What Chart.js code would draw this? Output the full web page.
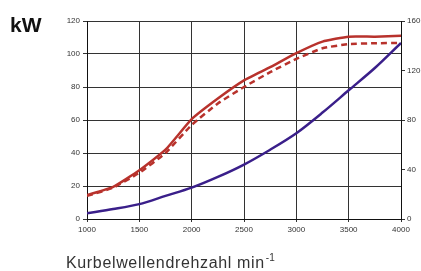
<!DOCTYPE html>
<html>
<head>
<meta charset="utf-8">
<script src="https://cdn.jsdelivr.net/npm/chart.js@4"></script>
<style>
html, body { margin: 0; padding: 0; background: #fff; }
#wrap { width: 421px; height: 271px; position: relative; }
</style>
</head>
<body>
<div id="wrap"><canvas id="chart"></canvas></div>
<script>
// rpm values (x)
const rpm = [1000, 1250, 1500, 1750, 2000, 2250, 2500, 2750, 3000, 3250, 3500, 3750, 4000]

// curves, read in left axis units (kW)
const powerSolid = [14.5, 19.5, 29.5, 42, 60.5, 73, 84, 92, 100.5, 107.5, 110.5, 110.5, 111]
const powerDashed = [14, 19, 28, 40, 57, 70, 80, 89, 97, 103.5, 106, 106.5, 106.7]
const blueCurve = [3.5, 6, 9, 14, 19, 25.5, 33, 42, 52, 64.5, 78, 91.5, 106.7]

// tick labels
const xTicks = [1000, 1500, 2000, 2500, 3000, 3500, 4000]
const leftTicks = [0, 20, 40, 60, 80, 100, 120]
const rightTicks = [0, 40, 80, 120, 160]

const red = "#b8322c"
const blue = "#3a1f8a"
const tickFont = { family: "'Liberation Sans', Arial, sans-serif", size: 8 }

function pts(vals){
return rpm.map((r, i) => ({ x: r, y: vals[i] }))
}

// "kW" and bottom label with superscript
const labels = {
id: "labels",
afterDraw(c){
const ctx = c.ctx
ctx.save()
ctx.fillStyle = "#111"
ctx.textBaseline = "alphabetic"
ctx.font = "bold 21px 'Liberation Sans', Arial, sans-serif"
ctx.fillText("kW", 10, 32)

ctx.fillStyle = "#333"
ctx.font = "16px 'Liberation Sans', Arial, sans-serif"
ctx.letterSpacing = "0.65px"
const main = "Kurbelwellendrehzahl min"
ctx.fillText(main, 66, 268)
const w = ctx.measureText(main).width
ctx.letterSpacing = "0px"
ctx.font = "10px 'Liberation Sans', Arial, sans-serif"
ctx.fillText("-1", 66 + w + 1, 261)
ctx.restore()
}
}

new Chart(document.getElementById("chart"), {
type: "line",
data: {
datasets: [
{ data: pts(powerSolid), borderColor: red, borderWidth: 2.5, pointRadius: 0, tension: 0.15, yAxisID: "y" },
{ data: pts(powerDashed), borderColor: red, borderWidth: 2.5, borderDash: [6, 4], pointRadius: 0, tension: 0.15, yAxisID: "y" },
{ data: pts(blueCurve), borderColor: blue, borderWidth: 2.5, pointRadius: 0, tension: 0.3, yAxisID: "y" }
]
},
options: {
responsive: true,
maintainAspectRatio: false,
animation: false,
layout: { padding: { top: 21, left: 0, right: 0, bottom: 0 } },
plugins: { legend: { display: false }, tooltip: { enabled: false } },
scales: {
x: {
type: "linear",
min: 1000,
max: 4000,
afterBuildTicks: s => { s.ticks = xTicks.map(v => ({ value: v })) },
grid: { color: "#333", lineWidth: 1, tickLength: 3, tickColor: "#333" },
border: { color: "#111", width: 1 },
ticks: { color: "#333", font: tickFont, padding: 3, maxRotation: 0, callback: v => String(v) },
afterFit: s => { s.height = 52 }
},
y: {
position: "left",
min: 0,
max: 120,
afterBuildTicks: s => { s.ticks = leftTicks.map(v => ({ value: v })) },
grid: { color: "#333", lineWidth: 1, tickLength: 4, tickColor: "#333" },
border: { color: "#111", width: 1 },
ticks: { color: "#333", font: tickFont, padding: 3 },
afterFit: s => { s.width = 87 }
},
y2: {
position: "right",
min: 0,
max: 160,
afterBuildTicks: s => { s.ticks = rightTicks.map(v => ({ value: v })) },
grid: { drawOnChartArea: false, tickLength: 4, tickColor: "#333" },
border: { color: "#111", width: 1 },
ticks: { color: "#333", font: tickFont, padding: 2 },
afterFit: s => { s.width = 20 }
}
}
},
plugins: [labels]
})
</script>
</body>
</html>
